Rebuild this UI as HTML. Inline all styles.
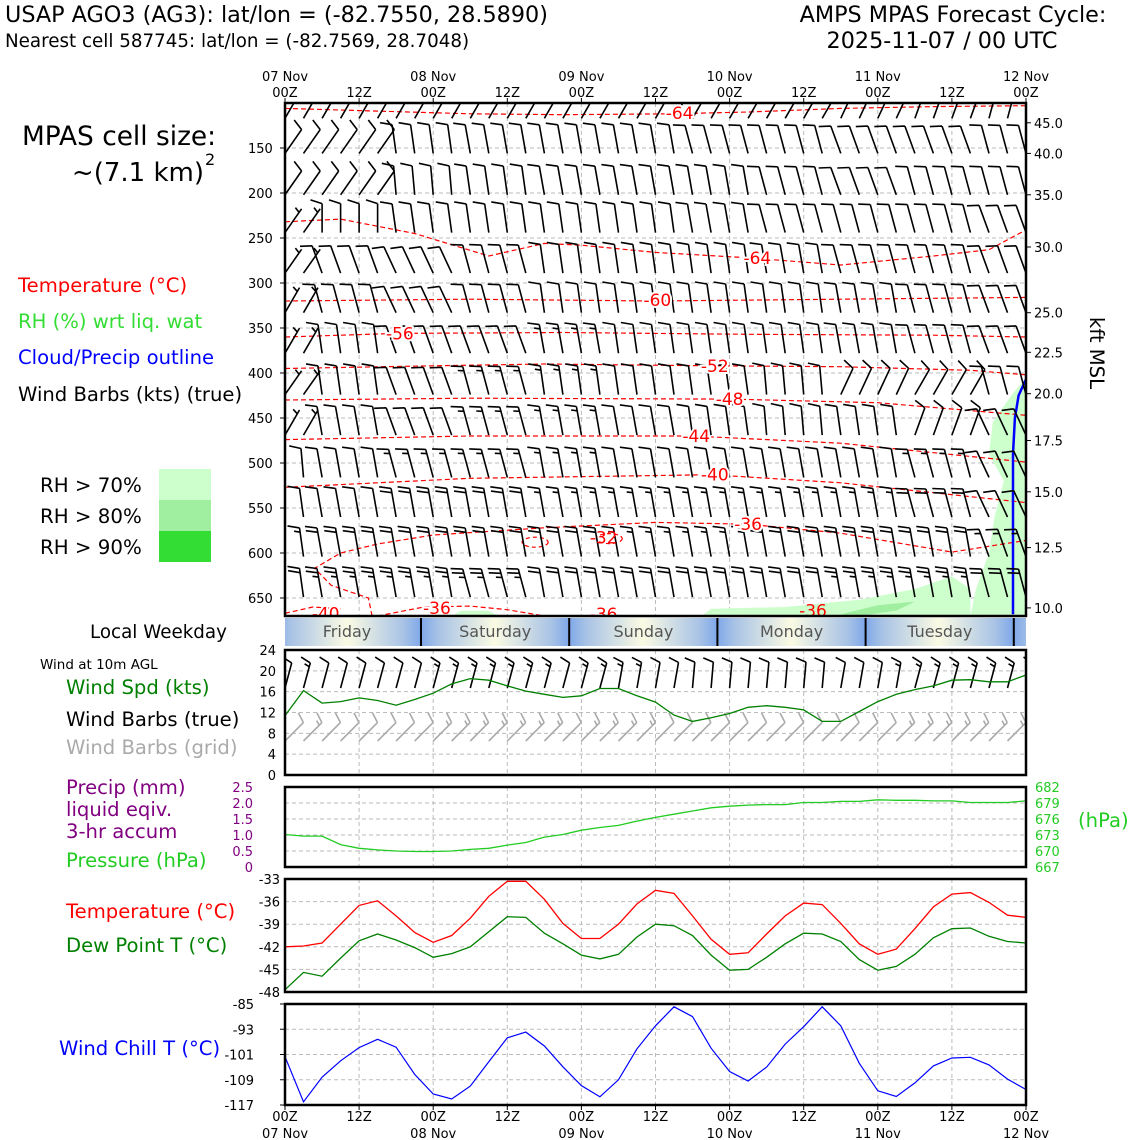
<!DOCTYPE html>
<html><head><meta charset="utf-8"><style>
body{margin:0;background:#fff}
svg{display:block;font-family:"DejaVu Sans","Liberation Sans",sans-serif}
</style></head><body>
<svg id="chart" width="1140" height="1140" viewBox="0 0 1140 1140" xmlns="http://www.w3.org/2000/svg">
<defs>
<clipPath id="mainclip"><rect x="285" y="103" width="741" height="513"/></clipPath>
<clipPath id="windclip"><rect x="285" y="650" width="741" height="125"/></clipPath>
<linearGradient id="daygrad" gradientUnits="userSpaceOnUse" x1="273" y1="0" x2="421" y2="0" spreadMethod="repeat">
<stop offset="0" stop-color="#7fa8e8"/><stop offset="0.12" stop-color="#a9c3e6"/><stop offset="0.5" stop-color="#fbfbe3"/><stop offset="0.88" stop-color="#a9c3e6"/><stop offset="1" stop-color="#7fa8e8"/>
</linearGradient>
</defs>
<g>
<text x="5" y="22" font-size="22.3">USAP AGO3 (AG3): lat/lon = (-82.7550, 28.5890)</text>
<text x="5" y="47" font-size="18.3">Nearest cell 587745: lat/lon = (-82.7569, 28.7048)</text>
<text x="953" y="22" font-size="22.3" text-anchor="middle">AMPS MPAS Forecast Cycle:</text>
<text x="942" y="48" font-size="22.3" text-anchor="middle">2025-11-07 / 00 UTC</text>
</g>
<g>
<text x="22" y="145" font-size="26.4">MPAS cell size:</text>
<text x="204" y="181" font-size="26" text-anchor="end">~(7.1 km)</text>
<text x="205" y="165" font-size="16">2</text>
<text x="18" y="292" font-size="19.6" fill="#ff0000">Temperature (°C)</text>
<text x="18" y="328" font-size="19.6" fill="#33dd33">RH (%) wrt liq. wat</text>
<text x="18" y="364" font-size="19.6" fill="#0000ff">Cloud/Precip outline</text>
<text x="18" y="401" font-size="19.6">Wind Barbs (kts) (true)</text>
<text x="40" y="492" font-size="19.8">RH &gt; 70%</text>
<text x="40" y="523" font-size="19.8">RH &gt; 80%</text>
<text x="40" y="554" font-size="19.8">RH &gt; 90%</text>
<rect x="159" y="469" width="52" height="31" fill="#ccffcc"/>
<rect x="159" y="500" width="52" height="31" fill="#a0eea0"/>
<rect x="159" y="531" width="52" height="31" fill="#33dd33"/>
<text x="90" y="638" font-size="18.3">Local Weekday</text>
<text x="40" y="669" font-size="13.5">Wind at 10m AGL</text>
<text x="66" y="694" font-size="19.6" fill="#008000">Wind Spd (kts)</text>
<text x="66" y="726" font-size="19.6">Wind Barbs (true)</text>
<text x="66" y="754" font-size="19.6" fill="#aaaaaa">Wind Barbs (grid)</text>
<text x="66" y="794" font-size="19.6" fill="#800080">Precip (mm)</text>
<text x="66" y="816" font-size="19.6" fill="#800080">liquid eqiv.</text>
<text x="66" y="838" font-size="19.6" fill="#800080">3-hr accum</text>
<text x="66" y="867" font-size="19.6" fill="#22cc22">Pressure (hPa)</text>
<text x="66" y="918" font-size="19.6" fill="#ff0000">Temperature (°C)</text>
<text x="66" y="952" font-size="19.6" fill="#008000">Dew Point T (°C)</text>
<text x="59" y="1055" font-size="19.6" fill="#0000ff">Wind Chill T (°C)</text>
<text x="1078" y="827" font-size="19.6" fill="#22cc22">(hPa)</text>
<text transform="translate(1090,353) rotate(90)" font-size="19.6" text-anchor="middle">kft MSL</text>
</g>
<g id="layers"></g>
</svg>
<script>
// ---------- data ----------
const hours = [];
for (let i = 0; i <= 40; i++) hours.push(i * 3);
const topDateLabels = ["07 Nov","08 Nov","09 Nov","10 Nov","11 Nov","12 Nov"];
const timeTickLabels = ["00Z","12Z","00Z","12Z","00Z","12Z","00Z","12Z","00Z","12Z","00Z"];
const pressureTicks = [150,200,250,300,350,400,450,500,550,600,650];
const kftTicks = ["45.0","40.0","35.0","30.0","25.0","22.5","20.0","17.5","15.0","12.5","10.0"];
const kftTickPressures = [122,156,202,260,333,377,423,475,532,594,661];
const weekdays = ["Friday","Saturday","Sunday","Monday","Tuesday"];
const windTicks = [0,4,8,12,16,20,24];
const precipTicks = ["0","0.5","1.0","1.5","2.0","2.5"];
const pressTicks = [667,670,673,676,679,682];
const tempTicks = [-48,-45,-42,-39,-36,-33];
const chillTicks = [-117,-109,-101,-93,-85];

const windSpeed = [11.4,16.2,13.8,14.1,14.8,14.3,13.4,14.5,15.7,17.5,18.5,18.2,17.1,16.1,15.5,14.9,15.2,16.6,16.6,15.2,14.0,11.5,10.3,11.0,11.8,13.0,13.3,13.0,12.5,10.3,10.3,12.2,14.1,15.5,16.4,17.1,18.2,18.3,17.9,17.9,19.2];
const windDir10True = [15,15,15,15,15,10,5,5,10,15,15];
const windDir10Grid = [45,45,45,45,45,45,45,45,45,45,45];
const precip = [0,0,0,0,0,0,0,0,0,0,0,0,0,0,0,0,0,0,0,0,0,0,0,0,0,0,0,0,0,0,0,0,0,0,0,0,0,0,0,0,0];
const pressure = [673.1,672.8,672.8,671.2,670.5,670.2,670.0,669.9,669.9,670.0,670.3,670.5,671.1,671.6,672.6,673.1,673.9,674.4,674.8,675.6,676.3,676.9,677.5,678.1,678.4,678.6,678.7,678.7,679.1,679.1,679.3,679.3,679.6,679.5,679.5,679.4,679.4,679.1,679.1,679.1,679.4];
const temperature = [-42.0,-41.9,-41.5,-39.0,-36.5,-35.9,-37.9,-40.1,-41.4,-40.5,-38.2,-35.3,-33.3,-33.3,-35.7,-38.9,-40.9,-40.9,-39.0,-36.3,-34.5,-34.9,-37.9,-41.0,-43.0,-42.8,-40.3,-37.9,-36.2,-36.4,-38.9,-41.6,-43.0,-42.3,-39.6,-36.7,-35.0,-34.8,-36.1,-37.8,-38.1];
const dewpoint = [-47.7,-45.4,-45.9,-43.5,-41.2,-40.3,-41.1,-42.1,-43.4,-42.9,-42.0,-40.0,-38.0,-38.1,-40.2,-41.6,-43.1,-43.6,-43.0,-40.7,-39.0,-39.2,-40.5,-43.1,-45.1,-45.0,-43.4,-41.6,-40.2,-40.3,-41.3,-43.7,-45.1,-44.6,-43.0,-40.8,-39.6,-39.5,-40.6,-41.3,-41.5];
const windChill = [-101.7,-116.0,-108.2,-103.0,-98.8,-96.2,-98.7,-107.3,-113.5,-115.1,-111.0,-103.3,-95.7,-93.9,-98.3,-104.9,-110.9,-114.4,-109.0,-99.2,-91.9,-85.9,-89.0,-99.0,-106.4,-109.4,-105.0,-97.7,-92.2,-85.9,-91.9,-103.8,-112.5,-114.3,-110.0,-104.6,-102.1,-101.9,-104.3,-108.8,-112.1];

// upper-air barbs: level pressure, direction (deg from up, + = clockwise) and speed every 12 h
const barbLevels = [117,156,202,244,289,333,378,424,469,516,560,604,649];
const barbDir = [
 [30,30,30,30,30,30,30,30,25,20,15],
 [35,35,-8,-10,-10,-10,-15,-15,-20,-20,-15],
 [35,35,-5,-8,-10,-10,-10,-15,-20,-15,-15],
 [35,0,-8,-8,-8,-8,-10,-15,-15,-15,-20],
 [35,-20,-25,-15,-8,-8,-8,-10,-15,-15,-20],
 [30,-15,-25,-15,-8,-8,-8,-8,-10,-15,-20],
 [30,-8,-20,-20,-10,-8,-8,-8,-10,-15,-20],
 [35,-8,-20,-15,-8,-8,-8,-5,25,30,-15],
 [30,-10,-20,-15,-10,-10,-8,-5,-8,20,-25],
 [-5,-10,-15,-15,-10,-10,-10,-10,-10,-15,-25],
 [-8,-10,-10,-10,-10,-10,-10,-10,-10,-15,-25],
 [-8,-10,-10,-10,-10,-10,-10,-10,-10,-10,-20],
 [-8,-10,-10,-15,-10,-10,-10,-10,-10,-10,-15]
];
const barbSpd = [
 [10,10,10,10,10,10,10,10,10,10,10],
 [10,10,10,10,10,10,10,10,10,10,10],
 [10,10,10,10,10,10,10,10,10,10,10],
 [5,10,10,10,10,10,10,10,10,10,10],
 [5,10,10,10,10,10,10,10,10,10,10],
 [5,10,10,10,10,10,10,10,10,10,10],
 [5,10,10,10,15,10,10,10,10,10,10],
 [5,10,10,15,15,10,10,10,10,10,10],
 [5,10,10,15,15,10,10,10,10,10,10],
 [10,10,15,15,15,10,10,10,10,15,10],
 [10,10,20,20,15,15,15,15,15,20,10],
 [15,20,20,20,20,15,15,20,20,20,15],
 [20,25,25,25,20,20,20,20,25,25,20]
];
// isotherms: [3h index, pressure]
const contourLevels = ["-64","-64","-60","-56","-52","-48","-44","-40","-36","-36","-40"];
const contourPts = [
 [[0,106],[5,109],[10,112],[15,113],[21,112],[25,110],[30,106],[35,104],[40,103]],
 [[0,232],[3,229],[7,245],[11,270],[14,256],[16,258],[20,266],[25,272],[30,280],[35,270],[38,263],[40,241]],
 [[0,320],[10,318],[20,320],[30,318],[40,316]],
 [[0,360],[6,356],[15,355],[25,357],[35,358],[40,360]],
 [[0,395],[8,392],[14,390],[23,392],[30,393],[37,397],[40,402]],
 [[0,430],[10,428],[24,429],[32,433],[40,447]],
 [[0,474],[10,470],[22,470],[30,478],[40,499]],
 [[0,527],[10,517],[23,513],[30,522],[40,544]],
 [[4.7,670],[4.5,650],[2.5,636],[1.6,617],[3,600],[5,590],[8,580],[14,572],[20,566],[25,568],[30,578],[36,599],[40,586]],
 [[5,670],[7.5,660],[10,659],[12,663],[14,670]],
 [[0,667],[1.5,660],[3,662]]
];
const contourLabelAt = [[21.3,111],[25.5,272],[20.1,319],[6.2,356],[23.2,392],[24,429],[22.2,470],[23.2,513],[25,568],[8.2,661],[2.2,667]];
const rhLight = [[[37,670],[37.3,640],[38,600],[38.3,560],[38.8,520],[38,490],[38.2,455],[39.2,425],[40,405],[40,670]],
 [[22.5,670],[23,662],[27,660],[31,652],[34,640],[36,626],[37,640],[37,670]],
 [[9,670],[9.5,664],[11,664],[11.5,670]]];
const rhMid = [[[30,668],[32,658],[34,654],[33,664],[31,670]]];
const cloudOutline = [[40,407],[39.6,425],[39.4,450],[39.3,490],[39.3,560],[39.3,640],[39.3,668]];

// ---------- scales ----------
const X0 = 285, X1 = 1026;
const xT = i => X0 + (X1 - X0) * i / 40;
const yP = p => 103 + (p - 100) * 0.9;
const yWind = v => 775 - v * (125 / 24);
const yPrecip = v => 867 - v * 32;
const yPress = v => 867 - (v - 667) * (80 / 15);
const yTemp = v => 879 + (-33 - v) * (113 / 15);
const yChill = v => 1004 + (-85 - v) * (101 / 32);

const NS = "http://www.w3.org/2000/svg";
const layers = document.getElementById("layers");
function mk(tag, attrs, parent) {
  const el = document.createElementNS(NS, tag);
  for (const k in attrs) el.setAttribute(k, attrs[k]);
  (parent || layers).appendChild(el);
  return el;
}
function grp(name) {
  const g = mk("g", {});
  
  
  return g;
}
function txt(parent, name, x, y, s, size, anchor, fill) {
  const t = mk("text", {x: x, y: y, "font-size": size, "text-anchor": anchor || "start", fill: fill || "#000"}, parent);
  t.textContent = s;
  
  
  return t;
}
function line(parent, name, x1, y1, x2, y2, stroke, w, dash) {
  const l = mk("line", {x1: x1, y1: y1, x2: x2, y2: y2, stroke: stroke, "stroke-width": w}, parent);
  if (dash) l.setAttribute("stroke-dasharray", dash);
  
  
  return l;
}
function barb(parent, name, x, y, ang, spd, len, color) {
  const a = ang * Math.PI / 180;
  const ux = Math.sin(a), uy = -Math.cos(a);
  const px = uy, py = -ux;
  let fx = px * 0.95 + ux * 0.3, fy = py * 0.95 + uy * 0.3;
  const fl = len * 0.42, sp = len * 0.15;
  const tx = x + ux * len, ty = y + uy * len;
  let d = `M${x.toFixed(1)},${y.toFixed(1)}L${tx.toFixed(1)},${ty.toFixed(1)}`;
  let full = Math.floor(spd / 10), half = (spd % 10) >= 5 ? 1 : 0;
  let k = 0;
  for (let f = 0; f < full; f++, k++) {
    const bx = tx - ux * sp * k, by = ty - uy * sp * k;
    d += `M${bx.toFixed(1)},${by.toFixed(1)}l${(fx * fl).toFixed(1)},${(fy * fl).toFixed(1)}`;
  }
  if (half) {
    if (k === 0) k = 1;
    const bx = tx - ux * sp * k, by = ty - uy * sp * k;
    d += `M${bx.toFixed(1)},${by.toFixed(1)}l${(fx * fl * 0.5).toFixed(1)},${(fy * fl * 0.5).toFixed(1)}`;
  }
  const p = mk("path", {d: d, stroke: color, "stroke-width": 1.6, fill: "none"}, parent);
  
  
}
function pathFrom(pts, fx, fy) {
  return pts.map((q, j) => (j ? "L" : "M") + fx(q[0]).toFixed(1) + "," + fy(q[1]).toFixed(1)).join("");
}
function frame(name, y0, y1) {
  const r = mk("rect", {x: X0, y: y0, width: X1 - X0, height: y1 - y0, fill: "none", stroke: "#000", "stroke-width": 2.5});
  
  
}
function vgrid(g, y0, y1) {
  for (let i = 4; i < 40; i += 4) line(g, "v-gridline", xT(i), y0, xT(i), y1, "#bbb", 1, "4,3");
}

// ---------- main panel ----------
const gMain = grp("upper-air-panel");
vgrid(gMain, 103, 616);
pressureTicks.forEach(p => {
  line(gMain, "h-gridline", X0, yP(p), X1, yP(p), "#bbb", 1, "4,3");
  line(gMain, "pressure-tick", X0 - 5, yP(p), X0, yP(p), "#000", 1);
  txt(gMain, "pressure-tick-label", 248, yP(p) + 5, String(p), 13);
});
kftTicks.forEach((s, j) => {
  line(gMain, "kft-tick", X1, yP(kftTickPressures[j]), X1 + 5, yP(kftTickPressures[j]), "#000", 1);
  txt(gMain, "kft-tick-label", 1034, yP(kftTickPressures[j]) + 5, s, 13);
});
const gClip = mk("g", {"clip-path": "url(#mainclip)"}, gMain);


rhLight.forEach(poly => {
  const p = mk("path", {d: pathFrom(poly, xT, yP) + "Z", fill: "#ccffcc", stroke: "none"}, gClip);
  
  
});
rhMid.forEach(poly => {
  const p = mk("path", {d: pathFrom(poly, xT, yP) + "Z", fill: "#a0eea0", stroke: "none"}, gClip);
  
  
});
contourPts.forEach((pts, j) => {
  const p = mk("path", {d: pathFrom(pts, xT, yP), fill: "none", stroke: "#ff0000", "stroke-width": 1.2, "stroke-dasharray": "5,3"}, gClip);
  
  
});
[[13.5,588],[17.5,584]].forEach(c => {
  const e = mk("ellipse", {cx: xT(c[0]), cy: yP(c[1]), rx: 13, ry: 5, fill: "none", stroke: "#ff0000", "stroke-width": 1.2, "stroke-dasharray": "4,3"}, gClip);
  
  
});
const cl = mk("path", {d: pathFrom(cloudOutline, xT, yP), fill: "none", stroke: "#0000ff", "stroke-width": 2.5}, gClip);


barbLevels.forEach((p, r) => {
  for (let i = 0; i <= 40; i++) {
    const s = Math.round(i / 4);
    barb(gClip, "wind-barb", xT(i), yP(p), barbDir[r][s], barbSpd[r][s], 29, "#000");
  }
});
contourLabelAt.forEach((c, j) => {
  const t = txt(gClip, "isotherm-label", xT(c[0]), yP(c[1]) + 6, contourLevels[j], 17, "middle", "#ff0000");
  t.setAttribute("stroke", "#fff"); t.setAttribute("stroke-width", "4"); t.setAttribute("paint-order", "stroke");
});
txt(gClip, "isotherm-label", xT(17.2), yP(583) + 6, "-32", 17, "middle", "#ff0000");
txt(gClip, "isotherm-label", xT(17.2), yP(668) + 6, "-36", 17, "middle", "#ff0000");
txt(gClip, "isotherm-label", xT(28.5), yP(664) + 6, "-36", 17, "middle", "#ff0000");
frame("upper-air-frame", 103, 616);

// top time axis
const gTop = grp("top-time-axis");
for (let i = 0; i <= 40; i += 4) {
  line(gTop, "top-tick", xT(i), 98, xT(i), 103, "#000", 1);
  txt(gTop, "top-hour-label", xT(i), 97, timeTickLabels[i / 4], 13, "middle");
  if (i % 8 === 0) txt(gTop, "top-date-label", xT(i), 81, topDateLabels[i / 8], 13, "middle");
}

// weekday bar
const gDay = grp("weekday-bar");
const wb = mk("rect", {x: X0, y: 618, width: X1 - X0, height: 28, fill: "url(#daygrad)"}, gDay);


weekdays.forEach((d, j) => {
  const mid = 421 - 74 + j * 148.2;
  txt(gDay, "weekday-label", mid, 637, d, 16, "middle", "#555");
  line(gDay, "weekday-separator", 421 + j * 148.2, 618, 421 + j * 148.2, 646, "#000", 2);
});

// ---------- wind panel ----------
const gWind = grp("wind-panel");
vgrid(gWind, 650, 775);
windTicks.forEach(v => {
  if (v > 0 && v < 24) line(gWind, "h-gridline", X0, yWind(v), X1, yWind(v), "#bbb", 1, "4,3");
  txt(gWind, "wind-tick-label", 276, yWind(v) + 5, String(v), 13, "end");
});
const gWc = mk("g", {"clip-path": "url(#windclip)"}, gWind);


for (let i = 0; i <= 40; i++) {
  barb(gWc, "wind-barb-grid", xT(i), 741, windDir10Grid[Math.round(i / 4)], windSpeed[i], 26, "#aaaaaa");
  barb(gWc, "wind-barb-true", xT(i), 688, windDir10True[Math.round(i / 4)], windSpeed[i], 26, "#000");
}
const ws = mk("path", {d: pathFrom(windSpeed.map((v, i) => [i, v]), xT, yWind), fill: "none", stroke: "#008000", "stroke-width": 1.3}, gWind);


frame("wind-frame", 650, 775);

// ---------- precip / pressure ----------
const gPr = grp("precip-pressure-panel");
vgrid(gPr, 787, 867);
precipTicks.forEach((s, j) => {
  const y = yPrecip(j * 0.5);
  if (j > 0 && j < 5) line(gPr, "h-gridline", X0, y, X1, y, "#bbb", 1, "4,3");
  txt(gPr, "precip-tick-label", 253, y + 5, s, 13, "end", "#800080");
});
pressTicks.forEach(v => {
  txt(gPr, "pressure-tick-label", 1035, yPress(v) + 5, String(v), 13, "start", "#22cc22");
});
precip.forEach((v, i) => {
  if (v > 0) {
    const r = mk("rect", {x: xT(i) - 6, y: yPrecip(v), width: 12, height: 867 - yPrecip(v), fill: "#800080"}, gPr);
    
    
  }
});
const pl = mk("path", {d: pathFrom(pressure.map((v, i) => [i, v]), xT, yPress), fill: "none", stroke: "#22cc22", "stroke-width": 1.3}, gPr);


frame("precip-frame", 787, 867);

// ---------- temperature ----------
const gT = grp("temperature-panel");
vgrid(gT, 879, 992);
tempTicks.forEach(v => {
  if (v > -48 && v < -33) line(gT, "h-gridline", X0, yTemp(v), X1, yTemp(v), "#bbb", 1, "4,3");
  txt(gT, "temperature-tick-label", 280, yTemp(v) + 5, String(v), 13, "end");
});
const tl = mk("path", {d: pathFrom(temperature.map((v, i) => [i, v]), xT, yTemp), fill: "none", stroke: "#ff0000", "stroke-width": 1.3}, gT);


const dl = mk("path", {d: pathFrom(dewpoint.map((v, i) => [i, v]), xT, yTemp), fill: "none", stroke: "#008000", "stroke-width": 1.3}, gT);


frame("temperature-frame", 879, 992);

// ---------- wind chill ----------
const gC = grp("wind-chill-panel");
vgrid(gC, 1004, 1105);
chillTicks.forEach(v => {
  if (v > -117 && v < -85) line(gC, "h-gridline", X0, yChill(v), X1, yChill(v), "#bbb", 1, "4,3");
  line(gC, "chill-tick", X0 - 5, yChill(v), X0, yChill(v), "#000", 1);
  txt(gC, "wind-chill-tick-label", 254, yChill(v) + 5, String(v), 13, "end");
});
const cll = mk("path", {d: pathFrom(windChill.map((v, i) => [i, v]), xT, yChill), fill: "none", stroke: "#0000ff", "stroke-width": 1.2}, gC);


frame("wind-chill-frame", 1004, 1105);

// bottom axis
const gBot = grp("bottom-time-axis");
for (let i = 0; i <= 40; i += 4) {
  line(gBot, "bottom-tick", xT(i), 1105, xT(i), 1110, "#000", 1);
  txt(gBot, "bottom-hour-label", xT(i), 1121, timeTickLabels[i / 4], 13, "middle");
  if (i % 8 === 0) txt(gBot, "bottom-date-label", xT(i), 1138, topDateLabels[i / 8], 13, "middle");
}
</script>
</body></html>
